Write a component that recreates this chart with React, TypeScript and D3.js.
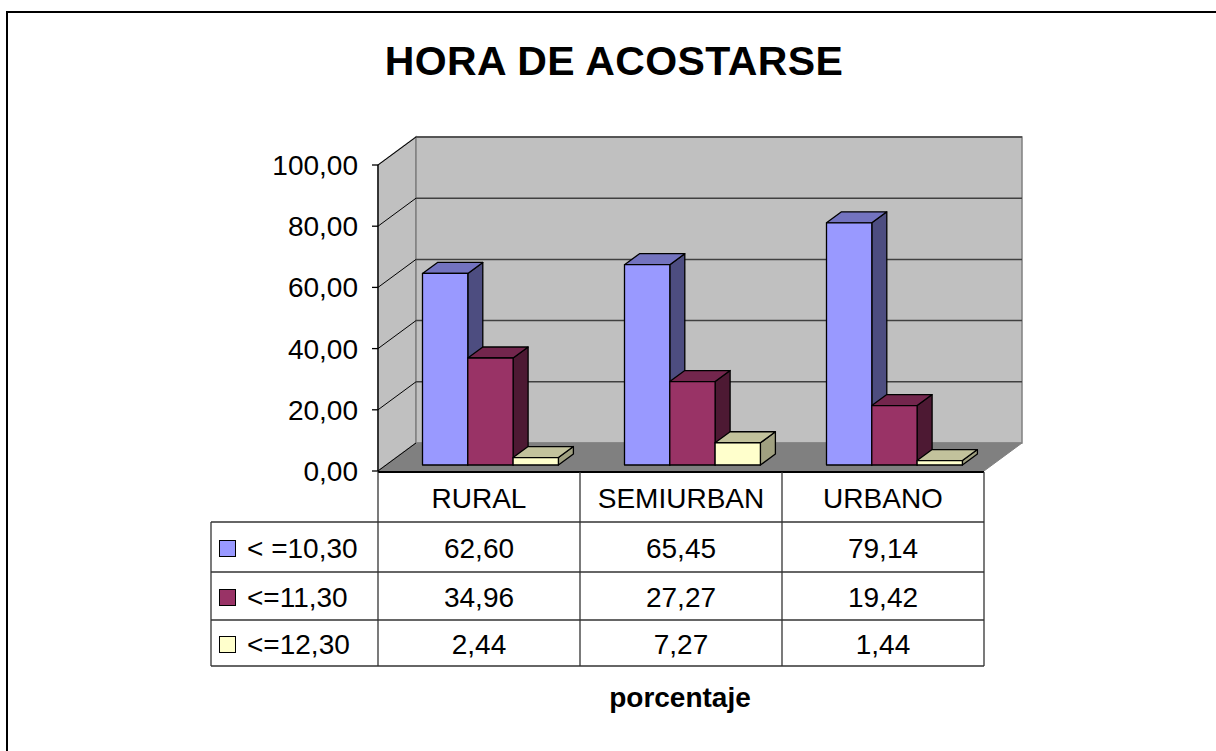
import React from "react";
import * as d3 from "d3";

const categories = ["RURAL", "SEMIURBAN", "URBANO"];
const seriesNames = ["< =10,30", "<=11,30", "<=12,30"];
const s1 = [62.6, 65.45, 79.14];
const s2 = [34.96, 27.27, 19.42];
const s3 = [2.44, 7.27, 1.44];
const yTicks = [0, 20, 40, 60, 80, 100];
const title = "HORA DE ACOSTARSE";
const axisTitle = "porcentaje";

const seriesValues = [s1, s2, s3];
const palette = [
  { front: "#9999FF", top: "#7373BF", side: "#4D4D80" },
  { front: "#993366", top: "#73264D", side: "#4D1933" },
  { front: "#FFFFCC", top: "#C2C29C", side: "#A0A080" },
];

const fmt = (v: number) => v.toFixed(2).replace(".", ",");

export default function App() {
  const FONT = "'Liberation Sans', Arial, sans-serif";
  const x0 = 378;
  const x1 = 984;
  const yBase = 471;
  const DX = 38;
  const DY = -28;
  const y = d3.scaleLinear().domain([0, 100]).range([yBase, 165]);
  const h = d3.scaleLinear().domain([0, 100]).range([0, 306]);
  const xBand = d3.scaleBand().domain(categories).range([x0, x1]);
  const barW = 45.3;
  const barOff = 44.5;
  const barBase = 465;
  const bdx = 15;
  const bdy = -11;

  const backTop = y(100) + DY;
  const backBottom = yBase + DY;

  const pts = (a: number[][]) => a.map((p) => p.join(",")).join(" ");

  const legendLeft = 211;
  const rowLines = [472, 522, 572, 620, 666];

  const bars: React.ReactNode[] = [];
  categories.forEach((c, ci) => {
    const cx = (xBand(c) as number) + barOff;
    seriesValues.forEach((vals, si) => {
      const bx = cx + si * barW;
      const top = barBase - h(vals[ci]);
      const col = palette[si];
      bars.push(
        <g key={`${ci}-${si}`} stroke="#000" strokeWidth={1.3} strokeLinejoin="round">
          <polygon
            points={pts([
              [bx + barW, top],
              [bx + barW + bdx, top + bdy],
              [bx + barW + bdx, barBase + bdy],
              [bx + barW, barBase],
            ])}
            fill={col.side}
          />
          <polygon
            points={pts([
              [bx, top],
              [bx + bdx, top + bdy],
              [bx + barW + bdx, top + bdy],
              [bx + barW, top],
            ])}
            fill={col.top}
          />
          <rect x={bx} y={top} width={barW} height={barBase - top} fill={col.front} />
        </g>
      );
    });
  });

  return (
    <svg
      width={1216}
      height={751}
      style={{ position: "absolute", left: 0, top: 0, display: "block", background: "#fff" }}
      fontFamily={FONT}
    >
      <rect x={7} y={12} width={1230} height={760} fill="#fff" stroke="#000" strokeWidth={2} />

      <text x={614} y={75} textAnchor="middle" fontSize={41} fontWeight="bold" fill="#000" letterSpacing={0.4}>
        {title}
      </text>

      <polygon
        points={pts([
          [x0, y(100)],
          [x0 + DX, backTop],
          [x0 + DX, backBottom],
          [x0, yBase],
        ])}
        fill="#C0C0C0"
        stroke="#808080"
        strokeWidth={1.5}
      />
      <rect
        x={x0 + DX}
        y={backTop}
        width={x1 + DX - (x0 + DX)}
        height={backBottom - backTop}
        fill="#C0C0C0"
        stroke="#808080"
        strokeWidth={1.5}
      />
      <polygon
        points={pts([
          [x0, yBase],
          [x0 + DX, backBottom],
          [x1 + DX, backBottom],
          [x1, yBase],
        ])}
        fill="#808080"
        stroke="#808080"
        strokeWidth={1}
      />
      {yTicks.map((t) => (
        <g key={t}>
          {t > 0 && (
            <line
              x1={x0 + DX}
              x2={x1 + DX}
              y1={y(t) + DY}
              y2={y(t) + DY}
              stroke="#404040"
              strokeWidth={1.5}
            />
          )}
          <line x1={x0} y1={y(t)} x2={x0 + DX} y2={y(t) + DY} stroke="#000" strokeWidth={1} />
          <line x1={x0 - 6} x2={x0} y1={y(t)} y2={y(t)} stroke="#000" strokeWidth={1.3} />
          <text x={358} y={y(t)} dy="0.36em" textAnchor="end" fontSize={28} fill="#000">
            {fmt(t)}
          </text>
        </g>
      ))}
      <line x1={x0} x2={x0} y1={y(100)} y2={yBase} stroke="#000" strokeWidth={1.3} />

      {bars}

      <g stroke="#333" strokeWidth={1.3} fill="none">
        <line x1={x0} x2={x1} y1={rowLines[0]} y2={rowLines[0]} stroke="#000" strokeWidth={2} />
        {rowLines.slice(1).map((ry) => (
          <line key={ry} x1={legendLeft} x2={x1} y1={ry} y2={ry} />
        ))}
        {[x0, ...categories.map((c) => (xBand(c) as number) + xBand.bandwidth())].map((lx) => (
          <line key={lx} x1={lx} x2={lx} y1={rowLines[0]} y2={rowLines[4]} />
        ))}
        <line x1={legendLeft} x2={legendLeft} y1={rowLines[1]} y2={rowLines[4]} />
      </g>
      {categories.map((c) => (
        <text
          key={c}
          x={(xBand(c) as number) + xBand.bandwidth() / 2}
          y={508}
          textAnchor="middle"
          fontSize={28}
          fill="#000"
        >
          {c}
        </text>
      ))}
      {seriesValues.map((vals, si) => {
        const rTop = rowLines[si + 1];
        const rBot = rowLines[si + 2];
        const base = (rTop + rBot) / 2 + 11;
        return (
          <g key={si}>
            <rect
              x={219.5}
              y={base - 17.5}
              width={16}
              height={16}
              fill={palette[si].front}
              stroke="#000"
              strokeWidth={1}
            />
            <text x={247} y={base} fontSize={28} fill="#000">
              {seriesNames[si]}
            </text>
            {vals.map((v, ci) => (
              <text
                key={ci}
                x={(xBand(categories[ci]) as number) + xBand.bandwidth() / 2}
                y={base}
                textAnchor="middle"
                fontSize={28}
                fill="#000"
              >
                {fmt(v)}
              </text>
            ))}
          </g>
        );
      })}

      <text x={680} y={707} textAnchor="middle" fontSize={28} fontWeight="bold" fill="#000">
        {axisTitle}
      </text>
    </svg>
  );
}
